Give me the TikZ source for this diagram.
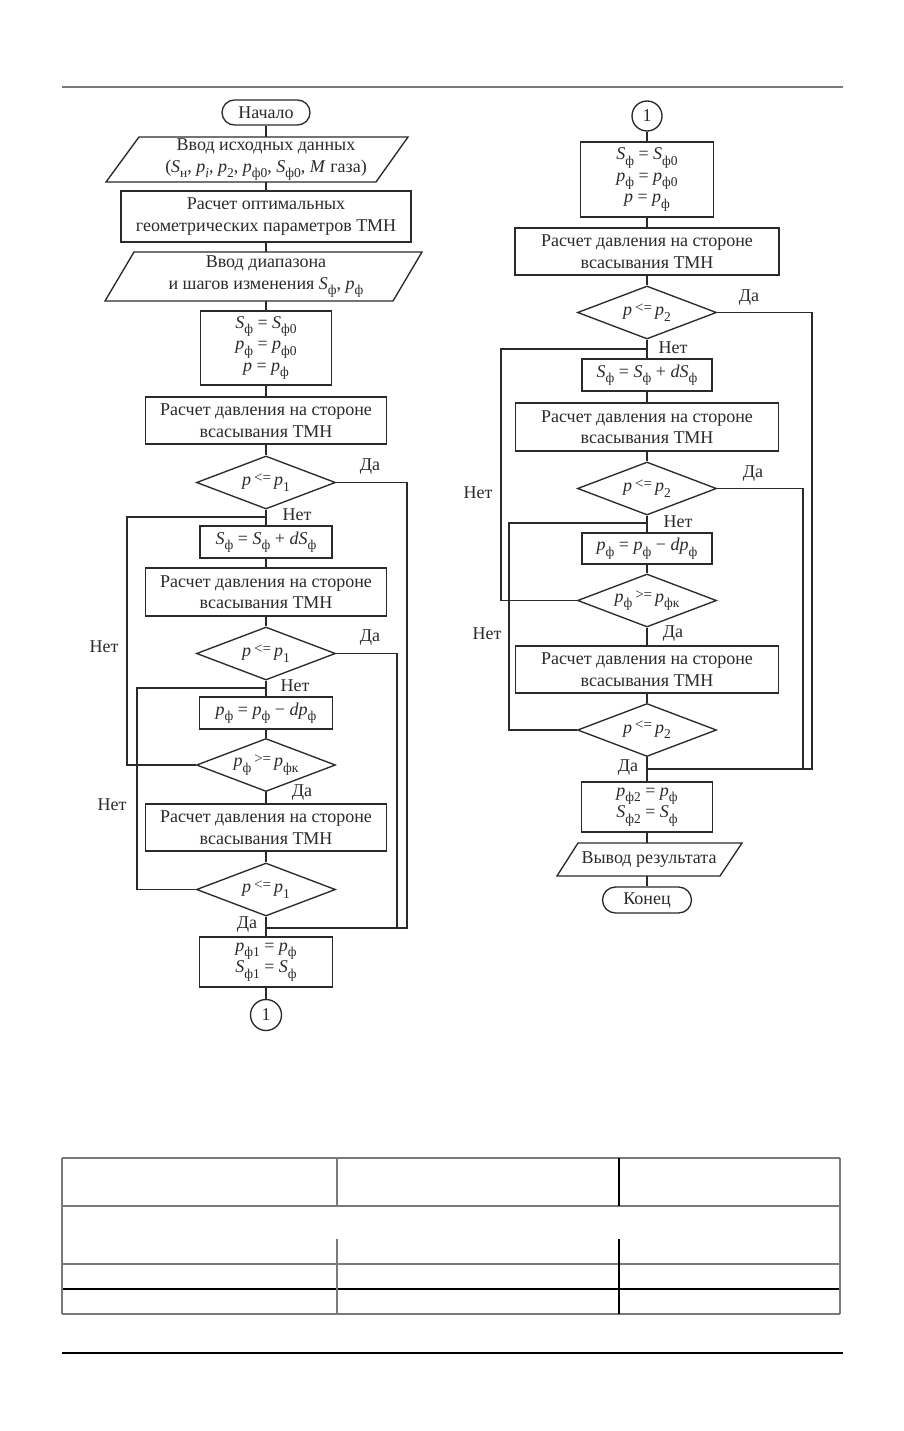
\documentclass[tikz,border=0pt]{standalone}
\usepackage{fontspec}
\setmainfont{Liberation Serif}
\usetikzlibrary{shapes.geometric,shapes.misc,calc}
\definecolor{ink}{HTML}{2B2A29}
\definecolor{tgray}{HTML}{7A7A7A}
\newcommand{\iv}[1]{\textit{#1}}
\newcommand{\sbx}[1]{\raisebox{-0.3em}{\fontsize{13.5}{13.5}\selectfont #1}}
\newcommand{\rel}[1]{\,\raisebox{0.18em}{\fontsize{15}{15}\selectfont #1}\,}
\begin{document}
\begin{tikzpicture}[x=1pt,y=-1pt,
  every node/.style={font=\fontsize{18}{21.5}\selectfont, text=ink},
  box/.style={draw=ink, line width=1.35pt, rectangle, inner sep=0pt, align=center},
  dec/.style={draw=ink, line width=1.35pt, diamond, inner sep=0pt, aspect=2.6, minimum width=139, minimum height=53},
  term/.style={draw=ink, line width=1.35pt, rounded rectangle, inner sep=0pt},
  conn/.style={draw=ink, line width=1.35pt, circle, inner sep=0pt},
  io/.style={inner sep=0pt, align=center},
  lbl/.style={inner sep=0pt},
  flow/.style={draw=ink, line width=1.35pt},
  tl/.style={draw=tgray, line width=1.8pt},
  tb/.style={draw=black, line width=1.4pt}]
\useasboundingbox (0,0) rectangle (904,1431);

% page rules
\draw[draw=tgray, line width=2.6pt] (62,87) -- (843,87);
\draw[draw=black, line width=1.8pt] (62,1353) -- (843,1353);

% ================= LEFT COLUMN =================
\node[term, minimum width=88, minimum height=25] (start) at (266,112.5) {Начало};
\node[io, minimum width=200, minimum height=45] (in1) at (266,159.5)
  {Ввод исходных данных\\(\iv{S}\sbx{н}, \iv{p}\sbx{\itshape i}, \iv{p}\sbx{2}, \iv{p}\sbx{ф0}, \iv{S}\sbx{ф0}, \iv{M} газа)};
\draw[flow] (139,137) -- (408,137) -- (376,182) -- (106,182) -- cycle;
\node[box, minimum width=290, minimum height=51] (opt) at (266,216.5)
  {Расчет оптимальных\\геометрических параметров ТМН};
\node[io, minimum width=200, minimum height=49] (in2) at (266,276.5)
  {Ввод диапазона\\и шагов изменения \iv{S}\sbx{ф}, \iv{p}\sbx{ф}};
\draw[flow] (134,252) -- (422,252) -- (393,301) -- (105,301) -- cycle;
\node[box, minimum width=131, minimum height=74] (init) at (266,348)
  {\iv{S}\sbx{ф} = \iv{S}\sbx{ф0}\\\iv{p}\sbx{ф} = \iv{p}\sbx{ф0}\\\iv{p} = \iv{p}\sbx{ф}};
\node[box, minimum width=241, minimum height=47] (calc1) at (266,420.5)
  {Расчет давления на стороне\\всасывания ТМН};
\node[dec] (d1) at (266,482.5) {\iv{p}\rel{<=}\iv{p}\sbx{1}};
\node[box, minimum width=132, minimum height=32] (inc) at (266,542)
  {\iv{S}\sbx{ф} = \iv{S}\sbx{ф} + \iv{dS}\sbx{ф}};
\node[box, minimum width=241, minimum height=48] (calc2) at (266,592)
  {Расчет давления на стороне\\всасывания ТМН};
\node[dec] (d2) at (266,653.5) {\iv{p}\rel{<=}\iv{p}\sbx{1}};
\node[box, minimum width=133, minimum height=32] (decr) at (266,713)
  {\iv{p}\sbx{ф} = \iv{p}\sbx{ф} − \iv{dp}\sbx{ф}};
\node[dec] (d3) at (266,765) {\iv{p}\sbx{ф}\rel{>=}\iv{p}\sbx{фк}};
\node[box, minimum width=241, minimum height=47] (calc3) at (266,827.5)
  {Расчет давления на стороне\\всасывания ТМН};
\node[dec] (d4) at (266,889.5) {\iv{p}\rel{<=}\iv{p}\sbx{1}};
\node[box, minimum width=133, minimum height=50] (res1) at (266,962)
  {\iv{p}\sbx{ф1} = \iv{p}\sbx{ф}\\\iv{S}\sbx{ф1} = \iv{S}\sbx{ф}};
\node[conn, minimum size=31] (c1) at (266,1015) {1};

\draw[flow] (start.south) -- (in1.north);
\draw[flow] (in1.south) -- (opt.north);
\draw[flow] (opt.south) -- (in2.north);
\draw[flow] (in2.south) -- (init.north);
\draw[flow] (init.south) -- (calc1.north);
\draw[flow] (calc1.south) -- (d1.north);
\draw[flow] (d1.south) -- (inc.north);
\draw[flow] (inc.south) -- (calc2.north);
\draw[flow] (calc2.south) -- (d2.north);
\draw[flow] (d2.south) -- (decr.north);
\draw[flow] (decr.south) -- (d3.north);
\draw[flow] (d3.south) -- (calc3.north);
\draw[flow] (calc3.south) -- (d4.north);
\draw[flow] (d4.south) -- (res1.north);
\draw[flow] (res1.south) -- (c1.north);

\coordinate (jL) at (266,928);
\coordinate (jR1) at (407,928);
\coordinate (jR2) at (397,928);
\coordinate (lo) at (266,517);
\coordinate (lox) at (127,517);
\coordinate (li) at (266,688);
\coordinate (lix) at (137,688);
\draw[flow] (d1.east) -| (jR1) -- (jL);
\draw[flow] (d2.east) -| (jR2);
\draw[flow] (d3.west) -| (lox) -- (lo);
\draw[flow] (d4.west) -| (lix) -- (li);

\node[lbl] at (370,467) {Да};
\node[lbl] at (297,515) {Нет};
\node[lbl] at (370,638) {Да};
\node[lbl] at (104,647) {Нет};
\node[lbl] at (295,686) {Нет};
\node[lbl] at (302,793) {Да};
\node[lbl] at (112,805) {Нет};
\node[lbl] at (247,925) {Да};

% ================= RIGHT COLUMN =================
\node[conn, minimum size=30] (c2) at (647,116) {1};
\node[box, minimum width=133, minimum height=75] (rinit) at (647,179.5)
  {\iv{S}\sbx{ф} = \iv{S}\sbx{ф0}\\\iv{p}\sbx{ф} = \iv{p}\sbx{ф0}\\\iv{p} = \iv{p}\sbx{ф}};
\node[box, minimum width=264, minimum height=47] (rcalc1) at (647,251.5)
  {Расчет давления на стороне\\всасывания ТМН};
\node[dec] (rd1) at (647,312.5) {\iv{p}\rel{<=}\iv{p}\sbx{2}};
\node[box, minimum width=130, minimum height=32] (rinc) at (647,375)
  {\iv{S}\sbx{ф} = \iv{S}\sbx{ф} + \iv{dS}\sbx{ф}};
\node[box, minimum width=263, minimum height=48] (rcalc2) at (647,427)
  {Расчет давления на стороне\\всасывания ТМН};
\node[dec] (rd2) at (647,488.5) {\iv{p}\rel{<=}\iv{p}\sbx{2}};
\node[box, minimum width=130, minimum height=31] (rdec) at (647,548.5)
  {\iv{p}\sbx{ф} = \iv{p}\sbx{ф} − \iv{dp}\sbx{ф}};
\node[dec] (rd3) at (647,600.5) {\iv{p}\sbx{ф}\rel{>=}\iv{p}\sbx{фк}};
\node[box, minimum width=263, minimum height=47] (rcalc3) at (647,669.5)
  {Расчет давления на стороне\\всасывания ТМН};
\node[dec] (rd4) at (647,730) {\iv{p}\rel{<=}\iv{p}\sbx{2}};
\node[box, minimum width=131, minimum height=50] (res2) at (647,807)
  {\iv{p}\sbx{ф2} = \iv{p}\sbx{ф}\\\iv{S}\sbx{ф2} = \iv{S}\sbx{ф}};
\node[io, minimum width=120, minimum height=33] (out) at (649,859.5) {Вывод результата};
\draw[flow] (578,843) -- (742,843) -- (720,876) -- (557,876) -- cycle;
\node[term, minimum width=89, minimum height=26] (stop) at (647,900) {Конец};

\draw[flow] (c2.south) -- (rinit.north);
\draw[flow] (rinit.south) -- (rcalc1.north);
\draw[flow] (rcalc1.south) -- (rd1.north);
\draw[flow] (rd1.south) -- (rinc.north);
\draw[flow] (rinc.south) -- (rcalc2.north);
\draw[flow] (rcalc2.south) -- (rd2.north);
\draw[flow] (rd2.south) -- (rdec.north);
\draw[flow] (rdec.south) -- (rd3.north);
\draw[flow] (rd3.south) -- (rcalc3.north);
\draw[flow] (rcalc3.south) -- (rd4.north);
\draw[flow] (rd4.south) -- (res2.north);
\draw[flow] (res2.south) -- (res2.south |- out.north);
\draw[flow] (res2.south |- out.south) -- (stop.north);

\coordinate (jL2) at (647,769);
\coordinate (jR3) at (812,769);
\coordinate (jR4) at (803,769);
\coordinate (lo2) at (647,349);
\coordinate (lo2x) at (501,349);
\coordinate (li2) at (647,523);
\coordinate (li2x) at (509,523);
\draw[flow] (rd1.east) -| (jR3) -- (jL2);
\draw[flow] (rd2.east) -| (jR4);
\draw[flow] (rd3.west) -| (lo2x) -- (lo2);
\draw[flow] (rd4.west) -| (li2x) -- (li2);

\node[lbl] at (749,298) {Да};
\node[lbl] at (673,348) {Нет};
\node[lbl] at (753,474) {Да};
\node[lbl] at (478,493) {Нет};
\node[lbl] at (678,522) {Нет};
\node[lbl] at (673,634) {Да};
\node[lbl] at (487,634) {Нет};
\node[lbl] at (628,768) {Да};

% ================= TABLE =================
\draw[tl] (62,1158) -- (840,1158);
\draw[tl] (62,1206) -- (840,1206);
\draw[tl] (62,1264) -- (840,1264);
\draw[tb] (62,1289) -- (840,1289);
\draw[tl] (62,1314) -- (840,1314);
\draw[tl] (62,1158) -- (62,1314);
\draw[tl] (840,1158) -- (840,1314);
\draw[tl] (337,1158) -- (337,1206);
\draw[tl] (337,1239) -- (337,1314);
\draw[tb] (619,1158) -- (619,1206);
\draw[tb] (619,1239) -- (619,1314);
\end{tikzpicture}
\end{document}
